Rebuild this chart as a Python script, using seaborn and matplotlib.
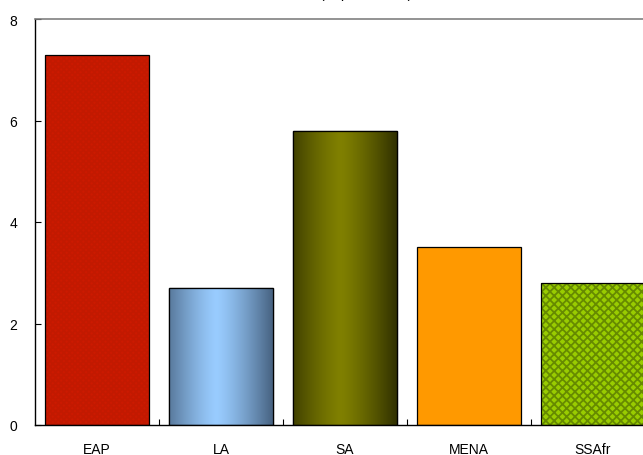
import numpy as np
import matplotlib
matplotlib.use("Agg")
import matplotlib.pyplot as plt
from matplotlib.colors import to_rgb
from matplotlib.patches import Rectangle
import seaborn as sns

# Regional growth figures
regions = ["EAP", "LA", "SA", "MENA", "SSAfr"]
growth = [7.3, 2.7, 5.8, 3.5, 2.8]
y_ticks = [0, 2, 4, 6, 8]
bar_colors = ["#CC1A00", "#99CCFF", "#808000", "#FF9900", "#99CC00"]

sns.set_theme(style="white")
plt.rcParams["font.family"] = ["Liberation Sans", "DejaVu Sans"]
plt.rcParams["hatch.linewidth"] = 1.3

fig = plt.figure(figsize=(6.43, 4.56), dpi=100)
ax = fig.add_axes([35 / 643, 30 / 456, 620 / 643, 406 / 456])

sns.barplot(x=regions, y=growth, hue=regions, palette=bar_colors,
            legend=False, width=0.84, saturation=1, ax=ax)

ax.set_xlim(-0.5, 4.5)
ax.set_ylim(0, 8)
ax.set_yticks(y_ticks)
ax.set_xlabel("")
ax.set_ylabel("")

bars = list(ax.patches)
for p in bars:
    p.set_edgecolor("black")
    p.set_linewidth(0.9)


def gradient_fill(patch, edge, centre, power=1.3):
    x0, y0 = patch.get_xy()
    w, h = patch.get_width(), patch.get_height()
    t = np.linspace(0, 1, 256)
    d = np.clip(np.abs(t - 0.45) / 0.55, 0, 1) ** power
    e, c = np.array(to_rgb(edge)), np.array(to_rgb(centre))
    row = c[None, :] * (1 - d[:, None]) + e[None, :] * d[:, None]
    img = np.repeat(row[None, :, :], 2, axis=0)
    im = ax.imshow(img, extent=(x0, x0 + w, y0, y0 + h), aspect="auto",
                   origin="lower", zorder=patch.get_zorder() + 0.1,
                   interpolation="bilinear")
    im.set_clip_path(patch)
    outline = Rectangle((x0, y0), w, h, fill=False, ec="black", lw=0.9,
                        zorder=patch.get_zorder() + 0.2)
    ax.add_patch(outline)


def hatch_fill(patch, hatch, hatch_color):
    x0, y0 = patch.get_xy()
    w, h = patch.get_width(), patch.get_height()
    patch.set_hatch(hatch)
    patch.set_edgecolor(hatch_color)
    patch.set_linewidth(0)
    outline = Rectangle((x0, y0), w, h, fill=False, ec="black", lw=0.9,
                        zorder=patch.get_zorder() + 0.2)
    ax.add_patch(outline)


# textured / shaded bars
hatch_fill(bars[0], "xxxxxx", "#C21900")
gradient_fill(bars[1], "#45607E", "#99CCFF")
gradient_fill(bars[2], "#2E2E00", "#808000")
hatch_fill(bars[4], "xxxx", "#668A00")

ax.set_xlim(-0.5, 4.5)
ax.set_ylim(0, 8)

for side in ["left", "bottom"]:
    ax.spines[side].set_color("black")
    ax.spines[side].set_linewidth(1.0)
ax.spines["top"].set_color("#808080")
ax.spines["top"].set_linewidth(1.2)
ax.spines["right"].set_visible(False)

ax.tick_params(axis="y", direction="in", length=4, width=0.8, left=True,
               pad=13, labelsize=10, colors="black")
ax.tick_params(axis="x", which="major", length=0, pad=12, labelsize=10,
               labelcolor="black")
ax.set_xticks([0.5, 1.5, 2.5, 3.5], minor=True)
ax.tick_params(axis="x", which="minor", direction="in", length=4, width=0.8,
               bottom=True, color="black")

# chart title sits just above the top edge of the canvas
fig.text(0.57, 1 + 1.5 / 456, "(% per annum)", ha="center", va="baseline",
         fontsize=10, color="black")

fig.savefig("out.png", dpi=100)
